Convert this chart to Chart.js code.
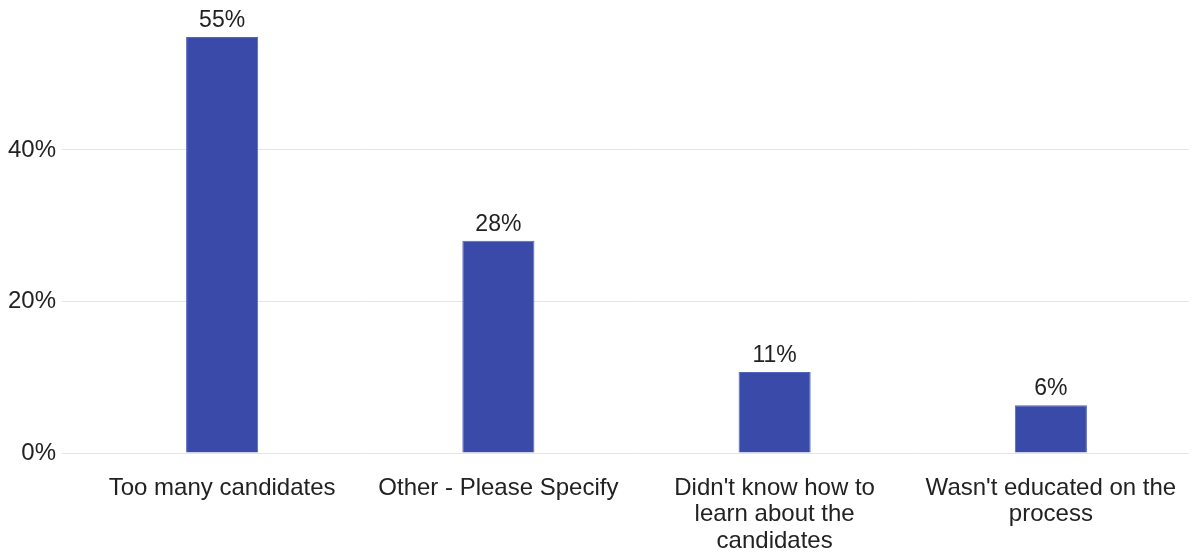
<!DOCTYPE html>
<html>
<head>
<meta charset="utf-8">
<script src="https://cdn.jsdelivr.net/npm/chart.js@4/dist/chart.umd.min.js"></script>
<style>
  html, body { margin: 0; padding: 0; background: #fff; }
  #wrap { width: 1201px; height: 554px; }
</style>
</head>
<body>
<div id="wrap"><canvas id="myChart" width="1201" height="554"></canvas></div>
<script>
// datos
let categorias = [
    'Too many candidates',
    'Other - Please Specify',
    ["Didn't know how to", 'learn about the', 'candidates'],
    ["Wasn't educated on the", 'process']
];
let valores = [54.9, 28.0, 10.7, 6.3];
let etiquetas = ['55%', '28%', '11%', '6%'];
let ticksY = [0, 20, 40];

const colorTexto = '#222222';
const fuente = { family: "'Liberation Sans', Arial, sans-serif", size: 24 };

// dibuja el valor arriba de cada barra
const etiquetasBarras = {
    id: 'etiquetasBarras',
    afterDatasetsDraw(chart) {
        const ctx = chart.ctx;
        const meta = chart.getDatasetMeta(0);
        ctx.save();
        ctx.font = '23px ' + fuente.family;
        ctx.fillStyle = colorTexto;
        ctx.textAlign = 'center';
        ctx.textBaseline = 'bottom';
        meta.data.forEach((barra, i) => {
            ctx.fillText(etiquetas[i], barra.x, barra.y - 5);
        });
        ctx.restore();
    }
};

const graficoHtml = document.getElementById('myChart').getContext('2d');
let graficoNuevo = new Chart(graficoHtml, {
    type: 'bar',
    data: {
        labels: categorias,
        datasets: [{
            data: valores,
            backgroundColor: '#3a4aa8',
            borderColor: '#5564bd',
            borderWidth: 1,
            barPercentage: 0.261,
            categoryPercentage: 1
        }]
    },
    options: {
        responsive: false,
        animation: false,
        layout: { padding: { top: 4, right: 12, left: 0, bottom: 0 } },
        plugins: {
            legend: { display: false },
            tooltip: { enabled: false }
        },
        scales: {
            x: {
                grid: { display: false },
                border: { display: false },
                ticks: {
                    color: colorTexto,
                    font: { ...fuente, lineHeight: 1.1 },
                    padding: 14,
                    maxRotation: 0,
                    autoSkip: false
                },
                afterFit(scale) { scale.height = 101; }
            },
            y: {
                min: 0,
                max: 57.1,
                border: { display: false },
                grid: {
                    color: '#e4e4e4',
                    lineWidth: 1,
                    tickLength: 22
                },
                ticks: {
                    color: colorTexto,
                    font: fuente,
                    padding: 6,
                    callback: (v) => v + '%'
                },
                afterBuildTicks(scale) {
                    scale.ticks = ticksY.map((v) => ({ value: v }));
                },
                afterFit(scale) { scale.width = 84; }
            }
        }
    },
    plugins: [etiquetasBarras]
});
</script>
</body>
</html>
